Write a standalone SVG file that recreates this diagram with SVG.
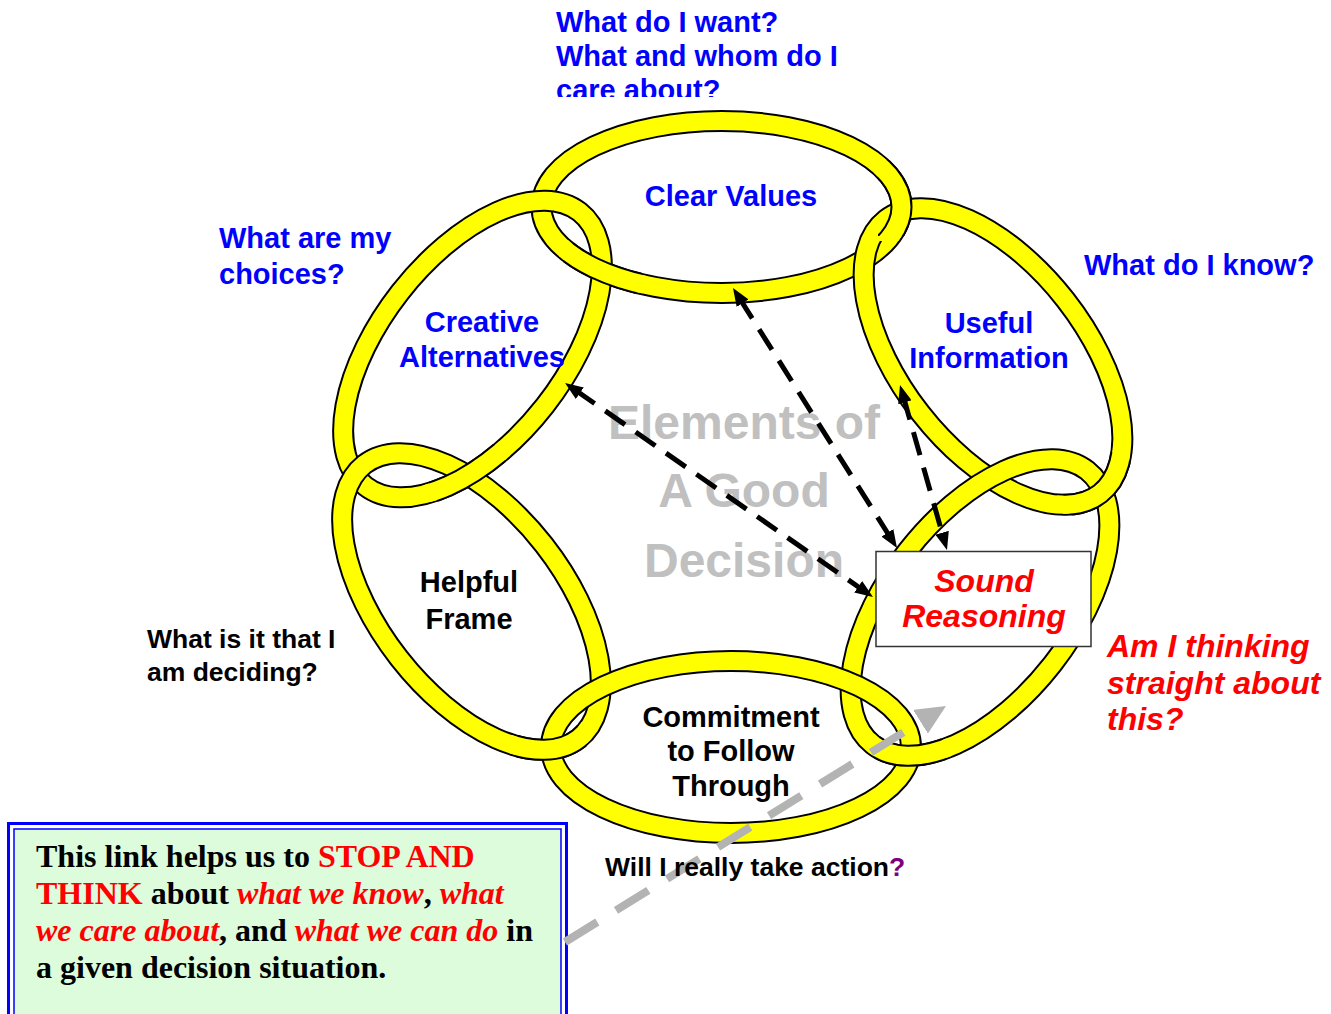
<svg xmlns="http://www.w3.org/2000/svg" xmlns:xlink="http://www.w3.org/1999/xlink" width="1331" height="1014" viewBox="0 0 1331 1014">
<defs>
<style>
.rb{fill:none;stroke:#000;stroke-width:22}
.ry{fill:none;stroke:#ffff00;stroke-width:18}
.lbl{font-family:"Liberation Sans",Arial,sans-serif;font-weight:bold;font-size:29px}
.blue{fill:#0000ff}
.blk{fill:#000}
.q{font-family:"Liberation Sans",Arial,sans-serif;font-weight:bold}
.red{fill:#ff0000}
.ser{font-family:"Liberation Serif","Times New Roman",serif;font-weight:bold;font-size:32px}
.dash{fill:none;stroke:#000;stroke-width:5;stroke-dasharray:24 13}
</style>
<ellipse id="e-t" cx="721.5" cy="207" rx="180" ry="86"/>
<ellipse id="e-b" cx="731" cy="747" rx="180" ry="86"/>
<ellipse id="e-lu" rx="174" ry="92" transform="translate(472.5 349) rotate(-52)"/>
<ellipse id="e-ru" rx="174" ry="92" transform="translate(993 356.5) rotate(52)"/>
<ellipse id="e-ll" rx="174" ry="92" transform="translate(471.5 601.5) rotate(52)"/>
<ellipse id="e-rl" rx="174" ry="92" transform="translate(980 607.5) rotate(-52)"/>
<clipPath id="cp1"><circle cx="602" cy="271" r="40"/></clipPath>
<clipPath id="cp1y"><circle cx="602" cy="271" r="46"/></clipPath>
<clipPath id="cp2"><rect x="878" y="160" width="70" height="76"/></clipPath>
<clipPath id="cp2y"><rect x="874" y="155" width="80" height="86"/></clipPath>
<clipPath id="cp3"><circle cx="468" cy="475" r="40"/></clipPath>
<clipPath id="cp3y"><circle cx="468" cy="475" r="46"/></clipPath>
<clipPath id="cp4"><circle cx="1103" cy="491" r="40"/></clipPath>
<clipPath id="cp4y"><circle cx="1103" cy="491" r="46"/></clipPath>
<clipPath id="cp5"><circle cx="551" cy="750" r="36"/></clipPath>
<clipPath id="cp5y"><circle cx="551" cy="750" r="42"/></clipPath>
<clipPath id="cp6"><circle cx="910" cy="756" r="36"/></clipPath>
<clipPath id="cp6y"><circle cx="910" cy="756" r="42"/></clipPath>
<clipPath id="cpTop"><rect x="0" y="0" width="1331" height="97"/></clipPath>
<marker id="ah" viewBox="0 0 18 14" refX="6" refY="7" markerWidth="18" markerHeight="14" markerUnits="userSpaceOnUse" orient="auto-start-reverse"><path d="M0,0 L18,7 L0,14 z" fill="#000"/></marker>
<marker id="gah" viewBox="0 0 30 28" refX="2" refY="14" markerWidth="30" markerHeight="28" markerUnits="userSpaceOnUse" orient="auto"><path d="M0,0 L30,14 L0,28 z" fill="#b3b3b3"/></marker>
</defs>
<rect width="1331" height="1014" fill="#fff"/>

<g id="title-watermark" font-family="Liberation Sans, Arial, sans-serif" font-weight="bold" font-size="48" fill="#c0c0c0" text-anchor="middle">
<text x="744" y="439">Elements of</text>
<text x="744" y="507">A Good</text>
<text x="744" y="577">Decision</text>
</g>

<g id="node-clear-values">
<use xlink:href="#e-t" class="rb"/><use xlink:href="#e-t" class="ry"/>
<text class="lbl blue" x="731" y="206" text-anchor="middle">Clear Values</text>
</g>
<g id="node-useful-information">
<use xlink:href="#e-ru" class="rb"/><use xlink:href="#e-ru" class="ry"/>
<text class="lbl blue" text-anchor="middle"><tspan x="989" y="333">Useful</tspan><tspan x="989" y="368">Information</tspan></text>
</g>
<g id="node-creative-alternatives">
<use xlink:href="#e-lu" class="rb"/><use xlink:href="#e-lu" class="ry"/>
<text class="lbl blue" text-anchor="middle"><tspan x="482" y="332">Creative</tspan><tspan x="482" y="367">Alternatives</tspan></text>
</g>
<g id="node-sound-reasoning">
<use xlink:href="#e-rl" class="rb"/><use xlink:href="#e-rl" class="ry"/>
<rect x="876" y="551.5" width="215" height="95" fill="#fff" stroke="#333" stroke-width="1.5"/>
<text class="q red" font-size="32" font-style="italic" text-anchor="middle"><tspan x="984" y="592">Sound</tspan><tspan x="984" y="627">Reasoning</tspan></text>
</g>
<g id="node-helpful-frame">
<use xlink:href="#e-ll" class="rb"/><use xlink:href="#e-ll" class="ry"/>
<text class="lbl blk" text-anchor="middle"><tspan x="469" y="592">Helpful</tspan><tspan x="469" y="629">Frame</tspan></text>
</g>
<g id="node-commitment">
<use xlink:href="#e-b" class="rb"/><use xlink:href="#e-b" class="ry"/>
<text class="lbl blk" text-anchor="middle"><tspan x="731" y="727">Commitment</tspan><tspan x="731" y="761">to Follow</tspan><tspan x="731" y="796">Through</tspan></text>
</g>

<g id="ring-overlaps">
<use xlink:href="#e-t" class="rb" clip-path="url(#cp1)"/><use xlink:href="#e-t" class="ry" clip-path="url(#cp1y)"/>
<use xlink:href="#e-t" class="rb" clip-path="url(#cp2)"/><use xlink:href="#e-t" class="ry" clip-path="url(#cp2y)"/>
<use xlink:href="#e-lu" class="rb" clip-path="url(#cp3)"/><use xlink:href="#e-lu" class="ry" clip-path="url(#cp3y)"/>
<use xlink:href="#e-ru" class="rb" clip-path="url(#cp4)"/><use xlink:href="#e-ru" class="ry" clip-path="url(#cp4y)"/>
<use xlink:href="#e-ll" class="rb" clip-path="url(#cp5)"/><use xlink:href="#e-ll" class="ry" clip-path="url(#cp5y)"/>
<use xlink:href="#e-rl" class="rb" clip-path="url(#cp6)"/><use xlink:href="#e-rl" class="ry" clip-path="url(#cp6y)"/>
</g>

<g id="questions" class="q">
<g clip-path="url(#cpTop)"><text class="blue" font-size="29"><tspan x="556" y="32">What do I want?</tspan><tspan x="556" y="66">What and whom do I</tspan><tspan x="556" y="100">care about?</tspan></text></g>
<text class="blue" font-size="29"><tspan x="219" y="248">What are my</tspan><tspan x="219" y="284">choices?</tspan></text>
<text class="blue" font-size="29" x="1084" y="275">What do I know?</text>
<text class="blk" font-size="26.5"><tspan x="147" y="648">What is it that I</tspan><tspan x="147" y="681">am deciding?</tspan></text>
<text class="red" font-size="32" font-style="italic"><tspan x="1107" y="657">Am I thinking</tspan><tspan x="1107" y="694">straight about</tspan><tspan x="1107" y="730">this?</tspan></text>
</g>

<g id="note-box">
<rect x="8.5" y="823.5" width="558" height="210" fill="#fff" stroke="#0000ff" stroke-width="3"/>
<rect x="14" y="829" width="547" height="210" fill="#dcfcdc" stroke="#0000ff" stroke-width="1.5"/>
<text class="ser blk"><tspan x="36" y="867">This link helps us to <tspan class="red">STOP AND</tspan></tspan><tspan x="36" y="904"><tspan class="red">THINK</tspan> about <tspan class="red" font-style="italic">what we know</tspan>, <tspan class="red" font-style="italic">what</tspan></tspan><tspan x="36" y="941"><tspan class="red" font-style="italic">we care about</tspan>, and <tspan class="red" font-style="italic">what we can do</tspan> in</tspan><tspan x="36" y="978">a given decision situation.</tspan></text>
</g>

<g id="connectors">
<line class="dash" x1="739.4" y1="298.1" x2="890.6" y2="537.9" marker-start="url(#ah)" marker-end="url(#ah)"/>
<line class="dash" x1="574.9" y1="389.8" x2="863.1" y2="590.2" marker-start="url(#ah)" marker-end="url(#ah)"/>
<line class="dash" x1="903.3" y1="396.5" x2="943.7" y2="538.5" marker-start="url(#ah)" marker-end="url(#ah)"/>
<line x1="565" y1="942" x2="922.2" y2="720.7" stroke="#b3b3b3" stroke-width="8" stroke-dasharray="38 22" marker-end="url(#gah)"/>
</g>

<text class="q blk" font-size="26.5" x="605" y="876">Will I really take action<tspan fill="#7f007f">?</tspan></text>
</svg>
